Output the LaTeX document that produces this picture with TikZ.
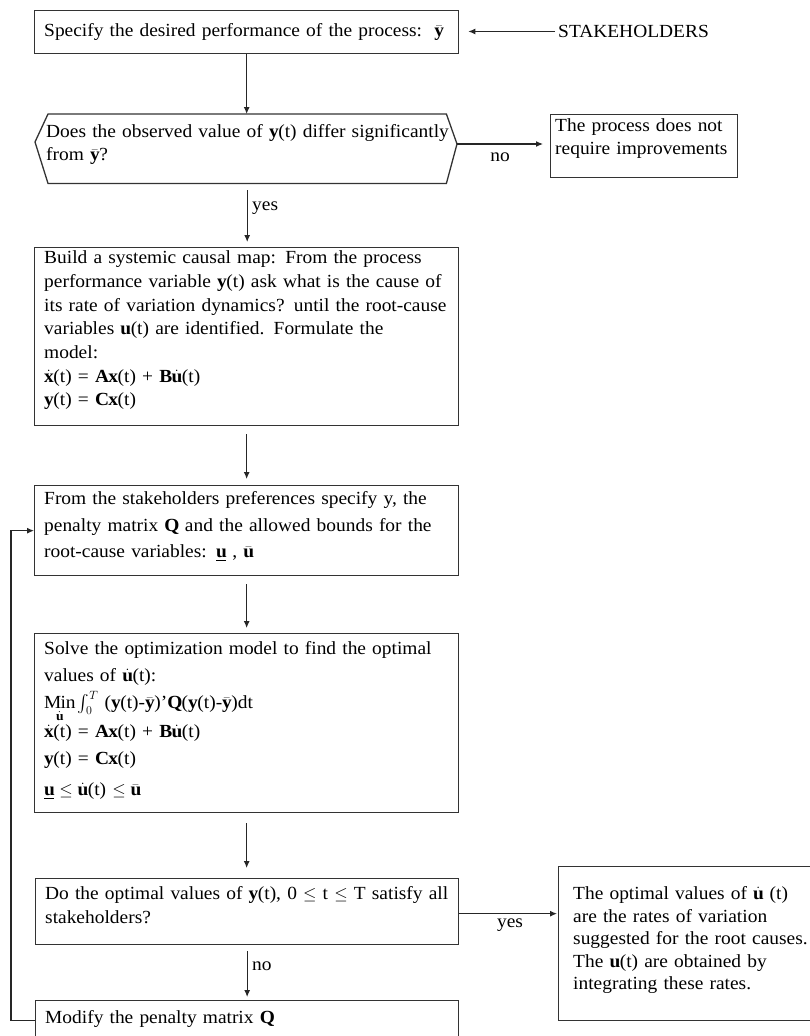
\documentclass[tikz,border=0pt]{standalone}
\usepackage{amsmath}
\usepackage{fontspec}
\setmainfont{Liberation Serif}[FakeStretch=1.05]
\usetikzlibrary{arrows.meta,calc}
\newcommand\fl{\rule{0pt}{20pt}}
\newcommand\fsz[1]{\fontsize{18.5pt}{#1pt}\selectfont}
\tikzset{
  box/.style={draw=black!80, line width=1.3pt, inner sep=0pt, anchor=north west},
  txt/.style={anchor=north west, inner sep=0pt, text width=420pt, align=left},
  fnt/.style={font={\fsz{#1}}},
  arr/.style={draw=black!85, line width=1.1pt, -{Latex[length=7pt,width=6pt]}},
  lbl/.style={inner sep=0pt, font={\fsz{22}}}
}
\begin{document}
\lineskiplimit=-40pt
\begin{tikzpicture}[x=1pt,y=-1pt]
\useasboundingbox (0,0) rectangle (809,1036);

% boxes
\node[box, minimum width=424pt, minimum height=43pt] (b1) at (34,10) {};
\node[anchor=north west, inner sep=0pt, minimum width=398pt, minimum height=69pt] (q1) at (48,114) {};
\coordinate (q1L) at (35,142);
\coordinate (q1R) at (457,144);
\draw[draw=black!80, line width=1.3pt] (q1.north west) -- (q1.north east) -- (q1R) -- (q1.south east) -- (q1.south west) -- (q1L) -- cycle;
\node[box, minimum width=187pt, minimum height=63pt] (b2) at (550,114) {};
\node[box, minimum width=424pt, minimum height=178pt] (b3) at (34,247) {};
\node[box, minimum width=424pt, minimum height=90pt] (b4) at (34,485) {};
\node[box, minimum width=424pt, minimum height=179pt] (b5) at (34,633) {};
\node[box, minimum width=423pt, minimum height=66pt] (b6) at (35,878) {};
\node[box, minimum width=257pt, minimum height=154pt] (b7) at (558,866) {};
\node[box, minimum width=423pt, minimum height=40pt] (b8) at (35,1000) {};

% texts
\node[txt, fnt=24] (t1) at (44,16) {\fl Specify the desired performance of the process:\ \ $\bar{\mathbf{y}}$};
\node[anchor=base west, inner sep=0pt, fnt=24] (sh) at (558,37.5) {STAKEHOLDERS};
\node[txt, fnt=23] (tq) at (46,117.5) {\fl Does the observed value of $\mathbf{y}$(t) differ significantly\\ from $\bar{\mathbf{y}}$?};
\node[txt, fnt=23, text width=190pt] (t2) at (555,111.5) {\fl The process does not\\ require improvements};
\node[txt, fnt=23.7] (t3) at (44,243.5) {\fl Build a systemic causal map: From the process\\ performance variable $\mathbf{y}$(t) ask what is the cause of\\ its rate of variation dynamics? until the root-cause\\ variables $\mathbf{u}$(t) are identified. Formulate the\\ model:\\ $\dot{\mathbf{x}}$(t) = $\mathbf{A}\mathbf{x}$(t) + $\mathbf{B}\dot{\mathbf{u}}$(t)\\ $\mathbf{y}$(t) = $\mathbf{C}\mathbf{x}$(t)};
\node[txt, fnt=26.5] (t4) at (44,484.5) {\fl From the stakeholders preferences specify y, the\\ penalty matrix $\mathbf{Q}$ and the allowed bounds for the\\ root-cause variables: $\underline{\mathbf{u}}$ , $\bar{\mathbf{u}}$};
\node[txt, fnt=27] (t5) at (44,634.5) {\fl Solve the optimization model to find the optimal\\ values of $\dot{\mathbf{u}}$(t):\\ $\mathop{\mathrm{Min}}\limits_{\dot{\mathbf{u}}}\int_{0}^{T}$ ($\mathbf{y}$(t)-$\bar{\mathbf{y}}$)'$\mathbf{Q}$($\mathbf{y}$(t)-$\bar{\mathbf{y}}$)dt\\[2pt] $\dot{\mathbf{x}}$(t) = $\mathbf{A}\mathbf{x}$(t) + $\mathbf{B}\dot{\mathbf{u}}$(t)\\[0pt] $\mathbf{y}$(t) = $\mathbf{C}\mathbf{x}$(t)\\[4pt] $\underline{\mathbf{u}} \le \dot{\mathbf{u}}$(t) $\le \bar{\mathbf{u}}$};
\node[txt, fnt=24] (t6) at (45,879.5) {\fl Do the optimal values of $\mathbf{y}$(t), 0 $\le$ t $\le$ T satisfy all\\ stakeholders?};
\node[txt, fnt=22.5, text width=240pt] (t7) at (573,879.5) {\fl The optimal values of $\dot{\mathbf{u}}$ (t)\\ are the rates of variation\\ suggested for the root causes.\\ The $\mathbf{u}$(t) are obtained by\\ integrating these rates.};
\node[txt, fnt=24] (t8) at (45,1003.5) {\fl Modify the penalty matrix $\mathbf{Q}$};

% labels
\node[lbl, anchor=center] (lno1) at (500,157) {no};
\node[lbl, anchor=west] (lyes1) at (252,208) {yes};
\node[lbl, anchor=center] (lyes2) at (510,925) {yes};
\node[lbl, anchor=west] (lno2) at (252,966) {no};

% connectors
\draw[arr, shorten <=3pt, shorten >=9pt] (sh.west) -- (sh.west -| b1.east);
\draw[arr] (b1.south) -- (b1.south |- q1.north);
\draw[arr, shorten >=7pt] (q1R) -- (q1R -| b2.west);
\draw[arr, shorten <=7pt, shorten >=5pt] (q1.south) -- (q1.south |- b3.north);
\draw[arr, shorten <=8pt, shorten >=6pt] (b3.south) -- (b4.north);
\draw[arr, shorten <=8pt, shorten >=5pt] (b4.south) -- (b5.north);
\draw[arr, shorten <=10pt, shorten >=10pt] (b5.south) -- (b5.south |- b6.north);
\draw[arr, shorten >=1pt] ($(b6.east)+(0,2)$) -- ($(b6.east -| b7.west)+(0,2)$);
\draw[arr, shorten <=6pt, shorten >=3pt] (b6.south) -- (b8.north);
\draw[arr] (b8.west) -- ++(-24,0) |- (b4.west);
\end{tikzpicture}
\end{document}
